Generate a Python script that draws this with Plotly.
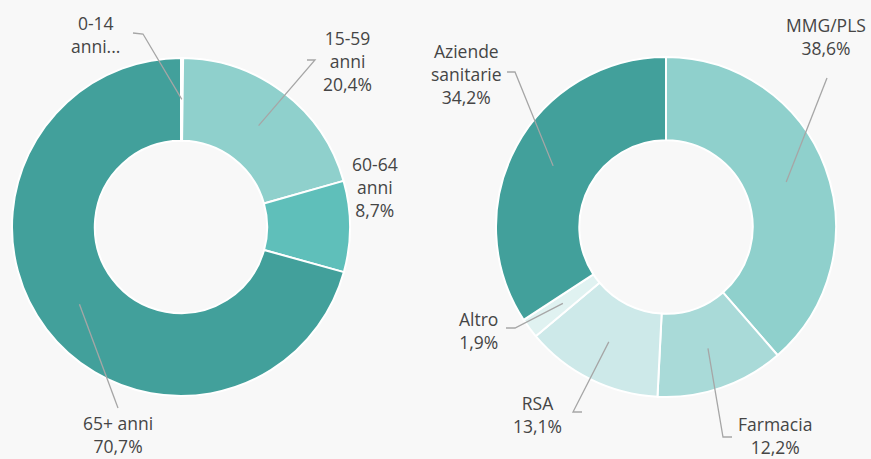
import math
import plotly.graph_objects as go

W, H = 871, 459

# ---- data ----
age_labels = ["0-14 anni", "15-59 anni", "60-64 anni", "65+ anni"]
age_values = [0.2, 20.4, 8.7, 70.7]
age_text = ["0-14<br>anni...", "15-59<br>anni<br>20,4%", "60-64<br>anni<br>8,7%", "65+ anni<br>70,7%"]

src_labels = ["MMG/PLS", "Farmacia", "RSA", "Altro", "Aziende sanitarie"]
src_values = [38.6, 12.2, 13.1, 1.9, 34.2]
src_text = ["MMG/PLS<br>38,6%", "Farmacia<br>12,2%", "RSA<br>13,1%", "Altro<br>1,9%", "Aziende<br>sanitarie<br>34,2%"]

# ---- styling / layout ----
age_colors = ["#d9efee", "#8fd0cc", "#5fbfba", "#42a09b"]
src_colors = ["#8fd0cc", "#a9dad8", "#cde9e9", "#e0f2f1", "#42a09b"]

pies = [
    dict(cx=181, cy=227, r=169, hole=0.51, labels=age_labels, values=age_values,
         text=age_text, colors=age_colors,
         # label centre (px) and elbow point (px) or None for no leader line
         lab=[(95, 34), (347, 61), (375, 187), (118, 434)],
         elbow=[(133, 33), (307, 60), None, None],
         elbow_end=[(143, 34), (315, 60), None, (118, 408)]),
    dict(cx=666, cy=227, r=170, hole=0.51, labels=src_labels, values=src_values,
         text=src_text, colors=src_colors,
         lab=[(826, 37), (775, 435), (537, 414), (478, 330), (466, 74)],
         elbow=[None, (732, 437), (582, 412), (506, 328), (507, 72)],
         elbow_end=[(827, 78), (723, 437), (573, 412), (515, 328), (515, 72)]),
]

def px(x, y):
    return x / W, 1 - y / H

fig = go.Figure()
shapes = []
annotations = []
for p in pies:
    x0, y1 = px(p["cx"] - p["r"], p["cy"] - p["r"])
    x1, y0 = px(p["cx"] + p["r"], p["cy"] + p["r"])
    fig.add_trace(go.Pie(
        labels=p["labels"], values=p["values"], hole=p["hole"], sort=False,
        direction="clockwise", rotation=0, textinfo="none", hoverinfo="label+percent",
        marker=dict(colors=p["colors"], line=dict(color="white", width=2)),
        domain=dict(x=[x0, x1], y=[y0, y1]), showlegend=False,
    ))
    total = sum(p["values"])
    cum = 0
    rmid = p["r"] * (1 + p["hole"]) / 2
    for i, v in enumerate(p["values"]):
        mid = (cum + v / 2) / total * 2 * math.pi
        cum += v
        ax = p["cx"] + rmid * math.sin(mid)
        ay = p["cy"] - rmid * math.cos(mid)
        lx, ly = p["lab"][i]
        annotations.append(dict(
            x=lx / W, y=1 - ly / H, xref="paper", yref="paper", text=p["text"][i],
            showarrow=False, xanchor="center", yanchor="middle", align="center",
            font=dict(family="Open Sans", size=17.5, color="#454545"),
        ))
        end = p["elbow_end"][i]
        if end is None:
            continue
        pts = [(ax, ay), end]
        if p["elbow"][i] is not None:
            pts.append(p["elbow"][i])
        path = "M " + " L ".join(f"{a / W:.5f},{1 - b / H:.5f}" for a, b in pts)
        shapes.append(dict(type="path", path=path, xref="paper", yref="paper",
                           line=dict(color="#a6a6a6", width=1.3)))

fig.update_layout(
    width=W, height=H, margin=dict(l=0, r=0, t=0, b=0),
    paper_bgcolor="#f8f8f8", plot_bgcolor="#f8f8f8",
    shapes=shapes, annotations=annotations,
)
fig.write_html("out.html", config={"displayModeBar": False},
               post_script="document.body.style.margin='0';document.body.style.overflow='hidden';")
